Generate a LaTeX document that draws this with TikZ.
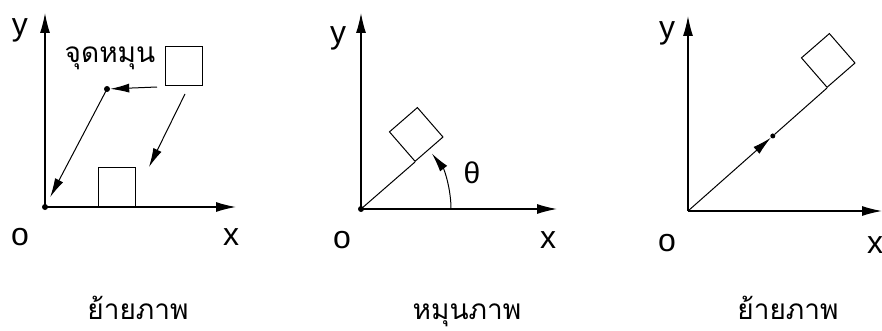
\documentclass[tikz,border=0pt]{standalone}
\usepackage{fontspec}
\setmainfont{Liberation Sans}
\newfontfamily\thaifont[Script=Thai]{Loma}
\usetikzlibrary{arrows.meta,calc,positioning}

\begin{document}
\begin{tikzpicture}[
    x=1pt, y=1pt,
    axis/.style={-{Latex[length=20pt,width=10pt]}, line width=1.2pt},
    move/.style={-{Latex[length=19pt,width=9pt]}, line width=1pt},
    box/.style={draw, line width=1pt, minimum width=37pt, minimum height=39pt, inner sep=0pt},
    dot/.style={circle, fill, inner sep=0pt, minimum size=6pt},
    lbl/.style={font=\fontsize{32}{32}\selectfont, inner sep=0pt},
    thai/.style={font=\thaifont\fontsize{28}{28}\selectfont, inner sep=0pt}
]
\useasboundingbox (0,0) rectangle (882,330);

% Panel 1: translate
\node[dot] (o1) at (45,123) {};
\coordinate (y1) at (45,317);
\coordinate (x1) at (236,123);
\node[lbl] (ylab1) at (20,300) {y};
\node[lbl] (olab1) at (20,93) {o};
\node[lbl] (xlab1) at (231,93) {x};
\node[box, anchor=south west] (sqa) at (165,244) {};
\node[box, anchor=south west] (sqb) at (98,123) {};
\node[dot] (pivot) at (107,241) {};
\node[thai] (pivlab) at (110,272) {จุดหมุน};
\coordinate (from1) at (157,243);
\coordinate (tail1) at (185,236);
\coordinate (head1) at (149,163);

\draw[axis] (o1.center) -- (y1);
\draw[axis] (o1.center) -- (x1);
\draw[move] (from1) -- (pivot);
\draw[move, shorten >=8pt] (pivot.center) -- (o1);
\draw[move] (tail1) -- (head1);

% Panel 2: rotate
\node[dot] (o2) at (361,121) {};
\coordinate (y2) at (361,317);
\coordinate (x2) at (557,121);
\node[lbl] (ylab2) at (338,292) {y};
\node[lbl] (olab2) at (342,90) {o};
\node[lbl] (xlab2) at (548,90) {x};
\node[box, rotate=41, anchor=south west] (sqc) at (415,168) {};
\coordinate (arc2) at (451,121);
\node[font=\fontsize{30}{30}\selectfont, inner sep=0pt] (theta) at (472,157) {θ};

\draw[axis] (o2.center) -- (y2);
\draw[axis] (o2.center) -- (x2);
\draw[line width=1pt] (o2.center) -- (sqc.south west);
\draw[move] (arc2) arc[start angle=0, end angle=38, radius=90];

% Panel 3: translate back
\coordinate (o3) at (688,119);
\coordinate (y3) at (688,314);
\coordinate (x3) at (882,119);
\node[lbl] (ylab3) at (667,297) {y};
\node[lbl] (olab3) at (667,87) {o};
\node[lbl] (xlab3) at (875,85) {x};
\node[box, rotate=41, anchor=south west] (sqd) at (827,242) {};
\node[dot, minimum size=5pt] (mid3) at ($(o3)!0.61!(sqd.south west)$) {};

\draw[axis] (o3) -- (y3);
\draw[axis] (o3) -- (x3);
\draw[move] (o3) -- (mid3);
\draw[line width=1pt] (mid3) -- (sqd.south west);

% Captions
\node[thai, anchor=base] (capa) at (138,11) {ย้ายภาพ};
\node[thai, anchor=base] (capb) at (467,11) {หมุนภาพ};
\node[thai, anchor=base] (capc) at (788,11) {ย้ายภาพ};
\end{tikzpicture}
\end{document}
